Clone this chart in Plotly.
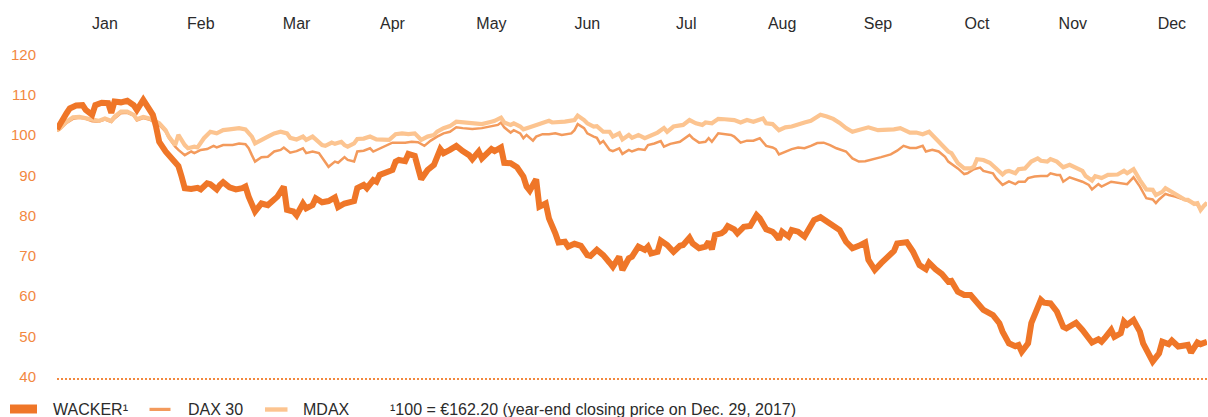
import pandas as pd
import plotly.graph_objects as go

# ---- data (index: 100 = closing price on Dec. 29, 2017) ----
# day offsets from 2018-01-01 for each sampled trading day
wacker_day = [1, 2, 4, 5, 7, 9, 10, 12, 13, 15, 17, 18, 19, 21, 23, 25, 26, 28, 29, 31,
              32, 33, 35, 37, 39, 40, 41, 43, 45, 46, 48, 49, 51, 52, 53, 55, 57, 59, 60, 61,
              63, 65, 67, 70, 72, 73, 75, 76, 78, 79, 81, 82, 84, 86, 88, 89, 91, 94, 95, 97,
              98, 100, 101, 102, 104, 106, 107, 108, 110, 111, 113, 114, 115, 117, 119, 121, 122, 124, 126, 128,
              130, 131, 133, 134, 136, 137, 138, 140, 141, 143, 145, 147, 148, 149, 151, 152, 154, 155, 157, 158,
              160, 161, 163, 165, 167, 168, 170, 172, 174, 175, 177, 178, 180, 181, 183, 185, 186, 187, 189, 190,
              192, 194, 196, 197, 199, 200, 202, 204, 205, 206, 207, 209, 210, 211, 213, 214, 216, 218, 220, 221,
              223, 225, 226, 227, 228, 230, 231, 233, 235, 237, 238, 240, 242, 244, 246, 248, 250, 252, 254, 255,
              257, 259, 261, 263, 264, 267, 269, 271, 273, 274, 276, 278, 280, 281, 283, 285, 287, 289, 291, 294,
              296, 297, 299, 301, 302, 303, 305, 306, 308, 309, 310, 312, 314, 316, 317, 319, 320, 322, 324, 325,
              327, 328, 329, 331, 332, 334, 335, 336, 338, 340, 341, 343, 344, 346, 347, 349, 350, 352, 354, 355,
              356, 358, 359, 361]
wacker = [101.4, 102.9, 105.4, 106.6, 107.3, 107.4, 106.2, 105.0, 107.4, 108.0, 107.9, 105.5, 108.3, 108.1, 108.5, 107.4, 106.2, 108.7, 107.4, 105.0,
          102.1, 98.3, 95.9, 94.2, 92.3, 89.7, 86.8, 86.6, 86.9, 86.5, 88.0, 87.8, 86.5, 87.6, 88.3, 87.0, 86.5, 86.8, 87.2, 84.7,
          81.0, 83.0, 82.6, 84.7, 87.2, 81.4, 81.0, 80.1, 83.0, 81.8, 82.6, 84.3, 83.3, 83.6, 84.5, 82.1, 83.0, 83.6, 86.8, 87.6,
          86.8, 88.8, 88.4, 90.1, 90.6, 91.3, 93.4, 93.8, 93.5, 95.3, 94.8, 92.1, 89.0, 91.3, 92.6, 96.5, 95.5, 96.3, 97.3, 96.0,
          95.0, 94.0, 95.9, 94.2, 95.6, 96.5, 96.0, 96.9, 93.1, 93.0, 92.0, 89.7, 87.2, 86.2, 89.0, 82.2, 83.0, 79.3, 75.6, 73.3,
          73.5, 72.3, 73.0, 72.5, 70.2, 70.0, 71.5, 70.2, 68.3, 67.3, 69.8, 66.5, 69.4, 69.8, 72.3, 71.5, 72.3, 70.6, 71.0, 73.8,
          72.7, 71.0, 72.5, 72.7, 74.5, 73.1, 71.9, 72.3, 73.5, 71.6, 75.2, 75.6, 76.2, 77.4, 76.6, 75.6, 77.2, 77.4, 80.1, 79.3,
          76.6, 76.0, 75.2, 74.1, 76.0, 74.8, 76.4, 76.0, 74.8, 77.4, 78.9, 79.6, 78.5, 77.1, 76.4, 73.5, 71.9, 72.5, 73.3, 69.0,
          66.5, 68.2, 69.8, 71.2, 73.1, 73.4, 71.0, 67.7, 66.7, 68.3, 66.7, 65.5, 63.6, 63.8, 61.1, 60.3, 60.3, 58.2, 56.6, 55.3,
          53.3, 51.2, 48.3, 47.6, 47.9, 46.2, 48.3, 53.3, 56.6, 59.1, 58.4, 58.2, 56.2, 52.4, 52.0, 53.1, 53.4, 51.6, 49.1, 48.5,
          49.3, 48.7, 49.6, 51.6, 49.9, 50.8, 53.7, 52.9, 54.1, 51.2, 48.3, 45.4, 43.8, 45.8, 48.7, 48.1, 49.0, 47.5, 47.6, 47.9,
          46.0, 48.5, 48.1, 48.7]

dax_day = [1, 2, 4, 6, 8, 10, 12, 14, 16, 18, 19, 21, 23, 25, 26, 28, 30, 32, 33, 35,
           36, 38, 39, 41, 43, 44, 46, 48, 50, 51, 53, 56, 58, 60, 61, 62, 63, 65, 67, 69,
           71, 72, 74, 76, 78, 79, 81, 83, 85, 86, 88, 89, 91, 92, 94, 95, 97, 99, 100, 102,
           104, 106, 108, 110, 112, 114, 116, 118, 120, 122, 124, 126, 128, 131, 134, 137, 139, 140, 141, 143,
           144, 146, 147, 148, 150, 151, 153, 155, 157, 159, 162, 163, 164, 166, 167, 169, 170, 171, 172, 174,
           175, 177, 178, 180, 181, 183, 185, 186, 188, 190, 191, 193, 196, 199, 200, 202, 204, 205, 206, 208,
           210, 212, 213, 215, 217, 219, 221, 223, 225, 226, 227, 229, 231, 233, 235, 237, 239, 241, 243, 245,
           248, 250, 252, 254, 257, 259, 262, 264, 266, 268, 270, 272, 273, 275, 277, 279, 280, 283, 285, 286,
           288, 290, 291, 294, 295, 297, 299, 301, 302, 304, 305, 307, 309, 311, 312, 314, 315, 316, 318, 320,
           322, 324, 325, 327, 328, 331, 333, 335, 336, 338, 339, 340, 342, 344, 345, 346, 348, 349, 351, 354,
           355, 357, 358, 359, 360, 361]
dax = [101.0, 101.5, 103.0, 104.0, 104.3, 104.0, 103.4, 103.3, 103.8, 103.2, 104.1, 105.4, 105.5, 104.8, 103.6, 104.2, 103.8, 102.8, 102.5, 100.8,
       99.3, 97.1, 96.3, 95.0, 95.9, 95.5, 96.3, 96.5, 97.3, 96.9, 97.5, 97.5, 97.9, 97.7, 96.7, 95.0, 93.4, 94.5, 94.6, 95.9,
       96.3, 96.9, 95.6, 96.0, 96.7, 95.5, 95.9, 95.5, 93.4, 92.1, 93.4, 93.1, 94.5, 93.8, 93.4, 95.9, 96.1, 96.7, 95.9, 96.7,
       97.3, 98.1, 98.1, 98.1, 98.3, 98.2, 97.3, 98.6, 99.6, 100.4, 100.8, 101.9, 101.7, 101.5, 101.7, 102.2, 102.5, 103.1, 101.9, 100.6,
       101.2, 100.4, 99.2, 100.0, 98.6, 99.6, 100.2, 100.2, 100.4, 100.0, 100.4, 101.2, 102.7, 101.7, 100.4, 99.6, 99.3, 97.9, 98.5, 96.3,
       96.0, 96.7, 95.3, 96.3, 95.9, 96.5, 96.3, 97.5, 97.9, 98.5, 97.1, 97.8, 98.3, 100.0, 99.2, 98.1, 98.3, 99.2, 98.3, 100.4,
       100.2, 100.0, 99.6, 98.1, 98.6, 98.6, 99.2, 97.3, 96.9, 96.5, 95.2, 95.9, 96.5, 96.9, 96.7, 97.3, 98.0, 98.1, 97.5, 96.7,
       95.9, 94.2, 93.4, 93.5, 94.0, 94.5, 95.2, 96.1, 97.3, 96.8, 96.8, 97.3, 95.9, 96.3, 95.9, 94.6, 93.4, 91.7, 90.3, 90.5,
       91.5, 91.9, 91.1, 90.5, 89.3, 87.6, 88.5, 87.8, 88.4, 88.4, 89.3, 89.7, 89.8, 89.8, 90.5, 90.1, 90.1, 88.4, 89.5, 89.0,
       88.4, 87.6, 86.5, 87.8, 87.2, 88.4, 88.2, 88.0, 87.8, 89.5, 88.4, 87.2, 84.3, 84.0, 83.1, 84.0, 85.4, 85.1, 84.7, 83.9,
       83.6, 83.1, 82.6, 81.4, 82.2, 83.1]

mdax_day = [1, 2, 4, 6, 8, 10, 12, 14, 16, 18, 19, 21, 23, 25, 26, 28, 30, 32, 33, 35,
            36, 38, 39, 41, 42, 44, 45, 47, 49, 51, 53, 55, 58, 60, 62, 63, 65, 67, 69, 71,
            73, 74, 76, 78, 79, 81, 82, 84, 85, 87, 88, 90, 91, 92, 94, 95, 97, 99, 101, 103,
            105, 107, 109, 111, 113, 115, 117, 119, 120, 122, 124, 126, 128, 130, 132, 134, 137, 138, 140, 141,
            143, 144, 146, 147, 149, 151, 153, 155, 156, 158, 160, 163, 164, 166, 167, 169, 170, 172, 174, 175,
            177, 178, 180, 181, 183, 185, 187, 189, 191, 192, 194, 197, 199, 201, 203, 204, 206, 208, 210, 212,
            213, 215, 217, 219, 222, 223, 225, 227, 229, 231, 233, 235, 237, 239, 240, 242, 244, 246, 248, 250,
            253, 255, 258, 261, 263, 265, 268, 270, 272, 274, 276, 278, 280, 281, 283, 285, 287, 288, 289, 291,
            293, 295, 297, 298, 299, 301, 302, 304, 306, 308, 309, 311, 312, 314, 316, 318, 320, 322, 323, 325,
            326, 328, 330, 332, 333, 335, 336, 338, 339, 340, 342, 344, 345, 347, 348, 350, 351, 354, 355, 357,
            358, 359, 360, 361]
mdax = [101.1, 101.7, 103.3, 104.4, 104.5, 104.1, 103.7, 103.5, 104.1, 103.5, 104.5, 105.8, 105.8, 105.0, 103.9, 104.5, 104.1, 103.1, 102.9, 101.2,
        99.6, 97.5, 100.0, 97.5, 96.7, 97.1, 96.9, 99.2, 100.8, 100.4, 101.2, 101.4, 101.7, 101.4, 99.6, 97.9, 98.9, 99.6, 100.4, 100.8,
        100.4, 99.3, 98.9, 99.6, 98.8, 99.6, 98.9, 97.5, 97.3, 98.1, 97.8, 98.3, 97.5, 97.1, 97.9, 99.0, 99.1, 99.6, 98.9, 98.9,
        98.8, 100.2, 100.4, 100.2, 100.4, 98.8, 99.6, 100.0, 100.8, 101.7, 102.2, 103.3, 103.1, 103.1, 102.9, 102.7, 103.3, 103.5, 104.3, 103.1,
        102.5, 102.9, 102.1, 101.4, 101.9, 102.5, 102.9, 103.5, 103.1, 103.1, 103.3, 103.7, 104.8, 103.7, 102.9, 102.1, 102.2, 100.8, 100.8, 99.6,
        100.4, 98.9, 100.0, 99.3, 100.0, 99.2, 99.8, 100.6, 101.7, 100.8, 102.1, 102.5, 103.7, 102.9, 102.5, 103.1, 102.9, 104.0, 103.9, 103.7,
        103.7, 103.1, 103.7, 103.3, 104.1, 102.9, 102.7, 101.2, 101.9, 102.1, 102.7, 103.1, 103.5, 104.5, 105.0, 104.6, 104.0, 103.0, 101.7, 100.8,
        101.4, 101.9, 101.2, 101.2, 101.4, 101.7, 100.6, 100.6, 100.2, 100.8, 99.2, 97.5, 95.9, 95.5, 93.0, 91.7, 91.7, 92.1, 94.0, 93.8,
        93.1, 91.7, 90.2, 90.9, 91.1, 90.5, 91.5, 91.7, 93.4, 94.2, 93.6, 93.4, 94.0, 93.4, 92.0, 92.6, 91.7, 91.1, 89.8, 88.7,
        89.8, 89.3, 90.1, 90.2, 90.2, 91.1, 90.5, 91.5, 90.1, 88.8, 86.5, 86.4, 85.1, 85.9, 86.8, 85.9, 85.3, 84.0, 83.9, 82.9,
        83.1, 81.4, 82.4, 83.2]

series_names = ["WACKER¹", "DAX 30", "MDAX"]
month_ticks = ["2018-01-17", "2018-02-16", "2018-03-18", "2018-04-17", "2018-05-18", "2018-06-17",
               "2018-07-18", "2018-08-17", "2018-09-16", "2018-10-17", "2018-11-16", "2018-12-17"]
month_labels = ["Jan", "Feb", "Mar", "Apr", "May", "Jun", "Jul", "Aug", "Sep", "Oct", "Nov", "Dec"]
y_ticks = [40, 50, 60, 70, 80, 90, 100, 110, 120]
baseline_value = 39.4
footnote = "¹100 = €162.20 (year-end closing price on Dec. 29, 2017)"

# ---- styling / layout geometry ----
C_WACKER = "#EF7628"
C_DAX = "#F39A5C"
C_MDAX = "#FCC490"
C_AXIS = "#F2883F"
C_TEXT = "#2B2B2B"
FONT = "Liberation Sans, Arial, sans-serif"
W, H = 1208, 417
ML, MR, MT, MB = 57, 1, 40, 37
PW, PH = W - ML - MR, H - MT - MB


def px(x):
    return (x - ML) / PW


def py(y):
    return (H - MB - y) / PH


start = pd.Timestamp("2018-01-01")


def to_dates(days):
    return [start + pd.Timedelta(days=d) for d in days]


fig = go.Figure()
fig.add_trace(go.Scatter(x=to_dates(dax_day), y=dax, mode="lines", name=series_names[1],
                         line=dict(color=C_DAX, width=2.5)))
fig.add_trace(go.Scatter(x=to_dates(mdax_day), y=mdax, mode="lines", name=series_names[2],
                         line=dict(color=C_MDAX, width=4.2)))
fig.add_trace(go.Scatter(x=to_dates(wacker_day), y=wacker, mode="lines", name=series_names[0],
                         line=dict(color=C_WACKER, width=6)))

# dotted base line
fig.add_shape(type="line", xref="paper", x0=0, x1=1, yref="y", y0=baseline_value, y1=baseline_value,
              line=dict(color=C_AXIS, width=2.5, dash="2px,2px"))

# manual legend: swatches + labels
legend_items = [
    # (name, color, x0, x1, y0, y1, text_x)
    (series_names[0], C_WACKER, 10, 37, 404.5, 413.5, 51),
    (series_names[1], C_DAX, 149.5, 170.5, 407.8, 411.0, 186),
    (series_names[2], C_MDAX, 265, 287.5, 407.3, 411.7, 301),
]
for name, color, x0, x1, y0, y1, tx in legend_items:
    fig.add_shape(type="rect", xref="paper", yref="paper", x0=px(x0), x1=px(x1), y0=py(y1), y1=py(y0),
                  fillcolor=color, line=dict(width=0))
    fig.add_annotation(text=name, xref="paper", yref="paper", x=px(tx), y=py(409),
                       xanchor="left", yanchor="middle", showarrow=False,
                       font=dict(family=FONT, size=16, color=C_TEXT))

fig.add_annotation(text=footnote, xref="paper", yref="paper", x=px(388), y=py(409),
                   xanchor="left", yanchor="middle", showarrow=False,
                   font=dict(family=FONT, size=16, color=C_TEXT))

fig.update_layout(
    width=W, height=H,
    margin=dict(l=ML, r=MR, t=MT, b=MB),
    paper_bgcolor="white", plot_bgcolor="white",
    font=dict(family=FONT, size=15, color=C_TEXT),
    showlegend=False,
    xaxis=dict(side="top", range=["2018-01-02", "2018-12-28"], tickvals=month_ticks, ticktext=month_labels,
               showgrid=False, zeroline=False, showline=False, ticks="", automargin=False,
               tickfont=dict(family=FONT, size=16, color=C_TEXT), ticklabelstandoff=7),
    yaxis=dict(range=[39.2, 123.57], tickvals=y_ticks, showgrid=False, zeroline=False, showline=False,
               ticks="", automargin=False,
               tickfont=dict(family=FONT, size=15, color=C_AXIS), ticklabelstandoff=20),
)

fig.write_html("out.html", config={"displayModeBar": False},
               post_script="document.body.style.margin='0px';")
